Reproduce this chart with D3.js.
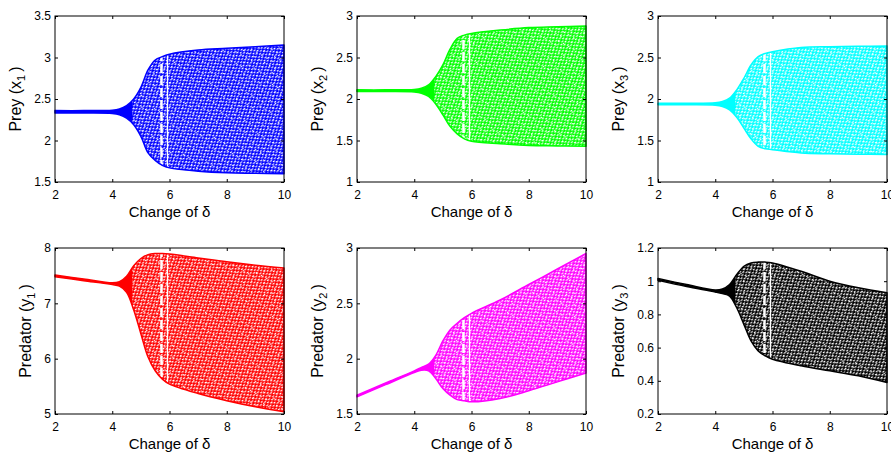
<!DOCTYPE html>
<html>
<head>
<meta charset="utf-8">
<script src="https://cdn.jsdelivr.net/npm/d3@7"></script>
<style>
body { margin: 0; background: #fff; }
text { font-family: "Liberation Sans", Arial, sans-serif; fill: #000; }
</style>
</head>
<body>
<svg id="fig" width="891" height="454"></svg>
<script>
var deltaSamples = [2, 3, 4, 4.25, 4.5, 4.75, 5, 5.25, 5.5, 5.75, 6, 7, 8, 9, 10];
var deltaTicks = [2, 4, 6, 8, 10];
var windowDelta = [5.72, 5.93]; // periodic window (white gaps)

var x1Upper = [2.36, 2.36, 2.365, 2.38, 2.42, 2.50, 2.64, 2.85, 2.97, 3.01, 3.04, 3.09, 3.11, 3.13, 3.15];
var x1Lower = [2.33, 2.33, 2.325, 2.31, 2.27, 2.19, 2.05, 1.85, 1.76, 1.70, 1.67, 1.63, 1.61, 1.605, 1.60];
var x2Upper = [2.11, 2.11, 2.115, 2.13, 2.17, 2.27, 2.41, 2.60, 2.73, 2.77, 2.79, 2.83, 2.86, 2.87, 2.88];
var x2Lower = [2.09, 2.09, 2.085, 2.07, 2.03, 1.94, 1.81, 1.67, 1.58, 1.52, 1.49, 1.46, 1.44, 1.435, 1.43];
var x3Upper = [1.95, 1.95, 1.955, 1.97, 2.01, 2.11, 2.25, 2.41, 2.51, 2.55, 2.57, 2.62, 2.63, 2.635, 2.64];
var x3Lower = [1.93, 1.93, 1.925, 1.91, 1.87, 1.78, 1.65, 1.52, 1.43, 1.40, 1.39, 1.35, 1.34, 1.335, 1.33];
var y1Upper = [7.51, 7.44, 7.37, 7.39, 7.49, 7.68, 7.81, 7.88, 7.90, 7.90, 7.89, 7.82, 7.75, 7.69, 7.64];
var y1Lower = [7.48, 7.41, 7.34, 7.31, 7.20, 6.88, 6.45, 6.03, 5.78, 5.63, 5.54, 5.37, 5.24, 5.13, 5.04];
var y2Upper = [1.67, 1.78, 1.89, 1.92, 1.95, 2.03, 2.16, 2.26, 2.32, 2.37, 2.41, 2.53, 2.67, 2.81, 2.95];
var y2Lower = [1.655, 1.765, 1.875, 1.895, 1.89, 1.82, 1.73, 1.67, 1.63, 1.62, 1.61, 1.64, 1.71, 1.79, 1.87];
var y3Upper = [1.017, 0.98, 0.947, 0.953, 0.98, 1.04, 1.09, 1.11, 1.115, 1.115, 1.11, 1.06, 1.00, 0.96, 0.93];
var y3Lower = [1.005, 0.968, 0.935, 0.925, 0.91, 0.84, 0.74, 0.64, 0.58, 0.55, 0.53, 0.49, 0.46, 0.43, 0.39];

var x1Ticks = [1.5, 2, 2.5, 3, 3.5];
var x2Ticks = [1, 1.5, 2, 2.5, 3];
var x3Ticks = [1, 1.5, 2, 2.5, 3];
var y1Ticks = [5, 6, 7, 8];
var y2Ticks = [1.5, 2, 2.5, 3];
var y3Ticks = [0.2, 0.4, 0.6, 0.8, 1, 1.2];

var panelNames = ["Prey", "Prey", "Prey", "Predator", "Predator", "Predator"];
var panelSymbols = ["x", "x", "x", "y", "y", "y"];
var panelSubs = ["1", "2", "3", "1", "2", "3"];
var panelColors = ["#0000ff", "#00ff00", "#00ffff", "#ff0000", "#ff00ff", "#000000"];
var panelUpper = [x1Upper, x2Upper, x3Upper, y1Upper, y2Upper, y3Upper];
var panelLower = [x1Lower, x2Lower, x3Lower, y1Lower, y2Lower, y3Lower];
var panelTicks = [x1Ticks, x2Ticks, x3Ticks, y1Ticks, y2Ticks, y3Ticks];

var colLeft = [55, 357, 658], rowTop = [16, 248];
var pw = 229, ph = 166;

var svg = d3.select("#fig");
var defs = svg.append("defs");

// speckle texture for the oscillation band
var pat = defs.append("pattern")
    .attr("id", "speckle")
    .attr("patternUnits", "userSpaceOnUse")
    .attr("width", 5).attr("height", 4)
    .attr("patternTransform", "rotate(-35)");
pat.append("rect").attr("x", 0).attr("y", 0).attr("width", 2.2).attr("height", 1.3).attr("fill", "#fff");
pat.append("rect").attr("x", 2.5).attr("y", 2).attr("width", 2.2).attr("height", 1.3).attr("fill", "#fff");

var pat2 = defs.append("pattern")
    .attr("id", "speckle2")
    .attr("patternUnits", "userSpaceOnUse")
    .attr("width", 6).attr("height", 5)
    .attr("patternTransform", "rotate(30)");
pat2.append("rect").attr("x", 0).attr("y", 0).attr("width", 1.5).attr("height", 1.2).attr("fill", "#fff");

function drawPanel(i) {
    var col = i % 3, row = Math.floor(i / 3);
    var g = svg.append("g").attr("transform", "translate(" + colLeft[col] + "," + rowTop[row] + ")");
    var ticks = panelTicks[i];
    var color = panelColors[i];

    var x = d3.scaleLinear().domain([2, 10]).range([0, pw]);
    var y = d3.scaleLinear().domain([ticks[0], ticks[ticks.length - 1]]).range([ph, 0]);

    var rows = deltaSamples.map(function(d, k) {
        return {d: d, hi: panelUpper[i][k], lo: panelLower[i][k]};
    });
    var area = d3.area()
        .x(function(d) { return x(d.d); })
        .y0(function(d) { return y(d.lo); })
        .y1(function(d) { return y(d.hi); })
        .curve(d3.curveCatmullRom.alpha(0.5));

    g.append("clipPath").attr("id", "band" + i)
        .append("path").attr("d", area(rows));
    g.append("clipPath").attr("id", "osc" + i)
        .append("rect").attr("x", x(4.7)).attr("y", 0).attr("width", pw - x(4.7)).attr("height", ph);

    g.append("path").attr("d", area(rows)).attr("fill", color);
    g.append("path").attr("d", area(rows)).attr("fill", "url(#speckle)")
        .attr("clip-path", "url(#osc" + i + ")");
    g.append("path").attr("d", area(rows)).attr("fill", "url(#speckle2)")
        .attr("clip-path", "url(#osc" + i + ")");

    // window of periodic behaviour
    var wg = g.append("g").attr("clip-path", "url(#band" + i + ")");
    wg.append("line")
        .attr("x1", x(windowDelta[0])).attr("x2", x(windowDelta[0]))
        .attr("y1", 0).attr("y2", ph)
        .attr("stroke", "#fff").attr("stroke-width", 2.5).attr("stroke-dasharray", "9,3");
    wg.append("line")
        .attr("x1", x(windowDelta[1])).attr("x2", x(windowDelta[1]))
        .attr("y1", 0).attr("y2", ph)
        .attr("stroke", "#fff").attr("stroke-width", 1.3);

    g.append("path").attr("d", area(rows)).attr("fill", "none")
        .attr("stroke", color).attr("stroke-width", 1.5).attr("stroke-linejoin", "round");

    // axes
    var fmt = function(v) { return String(v); };
    g.append("g").attr("transform", "translate(0," + ph + ")")
        .call(d3.axisBottom(x).tickValues(deltaTicks).tickFormat(fmt).tickSize(-3).tickPadding(8));
    g.append("g").call(d3.axisTop(x).tickValues(deltaTicks).tickFormat("").tickSize(-3));
    var ya = g.append("g")
        .call(d3.axisLeft(y).tickValues(ticks).tickFormat(fmt).tickSize(-3).tickPadding(4));
    g.append("g").attr("transform", "translate(" + pw + ",0)")
        .call(d3.axisRight(y).tickValues(ticks).tickFormat("").tickSize(-3));
    g.selectAll(".domain").remove();
    g.selectAll(".tick line").attr("stroke", "#000");
    g.selectAll(".tick text").attr("font-size", 12).attr("font-family", null).attr("fill", "#000");

    g.append("rect").attr("width", pw).attr("height", ph)
        .attr("fill", "none").attr("stroke", "#000").attr("stroke-width", 1);

    // labels
    g.append("text")
        .attr("x", pw / 2).attr("y", ph + 35)
        .attr("text-anchor", "middle").attr("font-size", 15)
        .text("Change of δ");

    var maxW = d3.max(ya.selectAll(".tick text").nodes(), function(n) { return n.getComputedTextLength(); });
    var bx = -(4 + maxW + 13);
    var lab = g.append("text")
        .attr("transform", "translate(" + bx + "," + (ph / 2) + ") rotate(-90)")
        .attr("text-anchor", "middle").attr("font-size", 16);
    lab.append("tspan").text(panelNames[i] + " (" + panelSymbols[i]);
    lab.append("tspan").attr("dy", 4).attr("font-size", 11).text(panelSubs[i]);
    lab.append("tspan").attr("dy", -4).attr("dx", 3).text(")");
}

d3.range(6).forEach(drawPanel);
</script>
</body>
</html>
